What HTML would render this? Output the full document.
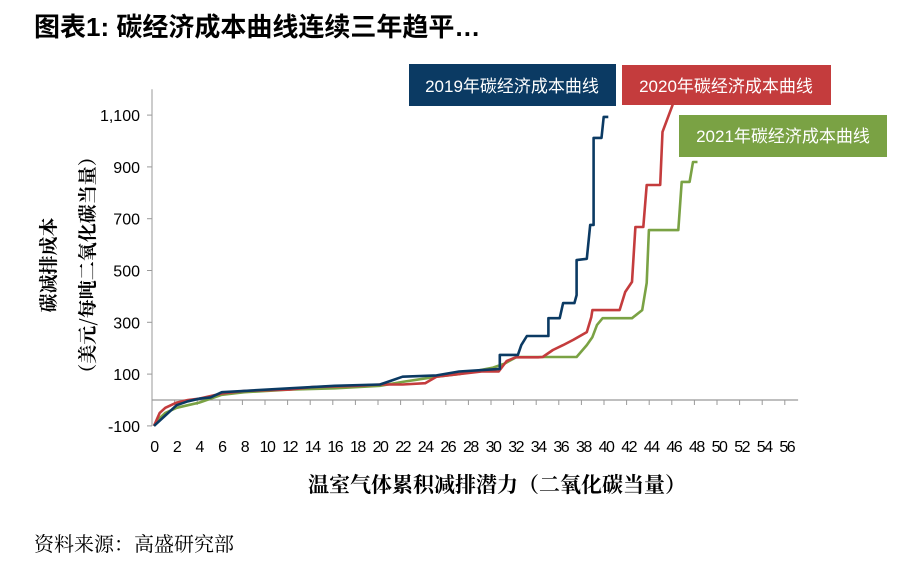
<!DOCTYPE html>
<html><head><meta charset="utf-8">
<style>
body{margin:0;background:#fff;width:908px;height:571px;overflow:hidden;font-family:"Liberation Sans","Noto Sans CJK SC",sans-serif}
</style></head><body>
<svg id="chart" width="908" height="571" xmlns="http://www.w3.org/2000/svg">
<text x="34" y="36" font-size="26" font-weight="bold" font-family="Liberation Sans, Noto Sans CJK SC, sans-serif" fill="#000">图表1: 碳经济成本曲线连续三年趋平…</text>
<g id="axes"></g>
<g id="series"></g>
<text transform="translate(55,265) rotate(-90)" text-anchor="middle" font-size="19" font-weight="bold" font-family="Noto Serif CJK SC, serif">碳减排成本</text>
<text transform="translate(94,265) rotate(-90)" text-anchor="middle" font-size="19" font-weight="bold" font-family="Noto Serif CJK SC, serif">（美元/每吨二氧化碳当量）</text>
<text x="497" y="492" text-anchor="middle" font-size="21" font-weight="bold" font-family="Noto Serif CJK SC, serif">温室气体累积减排潜力（二氧化碳当量）</text>
<text x="34" y="551" font-size="20" font-family="Noto Serif CJK SC, serif">资料来源：高盛研究部</text>
<g><rect x="409" y="64" width="207" height="42" fill="#0b3a63"/><text x="512" y="92" text-anchor="middle" fill="#fff" font-size="17">2019年碳经济成本曲线</text></g>
<g><rect x="622" y="65" width="209" height="40" fill="#c43c3d"/><text x="726" y="92" text-anchor="middle" fill="#fff" font-size="17">2020年碳经济成本曲线</text></g>
<g><rect x="679" y="115" width="208" height="42" fill="#7aa244"/><text x="783" y="142" text-anchor="middle" fill="#fff" font-size="17">2021年碳经济成本曲线</text></g>
</svg>
<script>
const yTicks=[-100,100,300,500,700,900,1100];
const yTickLabels=["-100","100","300","500","700","900","1,100"];
const xTicks=[0,2,4,6,8,10,12,14,16,18,20,22,24,26,28,30,32,34,36,38,40,42,44,46,48,50,52,54,56];
const s2019x=[0,0.5,1,1.5,2,3,4,5,6,8,12,16,20,21,22,25,27,30.6,30.6,32.2,32.5,33,34.9,34.9,35.9,36.2,37.2,37.4,37.4,38.3,38.6,38.9,38.9,39.6,39.8,40.2];
const s2019y=[-100,-80,-60,-40,-20,-5,5,10,30,35,45,55,60,75,90,95,110,120,174,174,212,247,247,316,316,374,374,405,540,545,676,676,1012,1012,1093,1093];
const s2020x=[0,0.5,1,2,3,4,6,8,12,14,18,20,22,24,25,27,29,30.5,31.2,32,34,34.4,35.3,36.2,37.1,38.3,38.7,38.8,41.2,41.7,42.3,42.6,43.3,43.6,44.8,45,45.9];
const s2020y=[-100,-50,-30,-10,0,5,25,35,40,50,55,60,60,65,90,100,110,110,150,165,165,166,193,212,232,262,320,347,347,417,456,668,668,830,830,1035,1140];
const s2021x=[0,0.5,1,2,3,4,6,8,12,16,20,22,25,27,30,31,32.1,37.4,38.3,38.8,39.2,39.7,42.3,43.2,43.6,43.8,44.2,46.4,46.4,46.7,47.4,47.7,48.1];
const s2021y=[-100,-70,-50,-30,-20,-10,20,30,40,45,55,70,90,100,125,140,166,166,212,243,290,316,316,347,452,656,656,656,656,842,842,919,919];
const NS="http://www.w3.org/2000/svg";
const X0=154,XS=11.3,Y0=400,YS=0.259;
const xs=v=>X0+v*XS, ys=v=>Y0-v*YS;
const axes=document.getElementById('axes'), ser=document.getElementById('series');
function mk(t,a,p){const e=document.createElementNS(NS,t);for(const k in a)e.setAttribute(k,a[k]);p.appendChild(e);return e;}
let l=mk('line',{x1:152,y1:ys(1200),x2:152,y2:ys(-100),stroke:'#999','stroke-width':1},axes);


l=mk('line',{x1:152,y1:Y0,x2:xs(57),y2:Y0,stroke:'#999','stroke-width':1.2},axes);


yTicks.forEach((v,i)=>{
  mk('line',{x1:147,y1:ys(v),x2:152,y2:ys(v),stroke:'#999'},axes);
  const t=mk('text',{x:140,y:ys(v)+6,'text-anchor':'end','font-size':16,fill:'#000'},axes);
  t.textContent=yTickLabels[i];
  
  
});
xTicks.forEach(v=>{
  mk('line',{x1:xs(v)-2,y1:Y0,x2:xs(v)-2,y2:Y0+5,stroke:'#999'},axes);
  const t=mk('text',{x:xs(v),y:452,'text-anchor':'middle','font-size':16,'letter-spacing':'-1.5',fill:'#000'},axes);
  t.textContent=v;
  
  
});
function draw(xa,ya,col,name){
  const d=xa.map((x,i)=>(i?'L':'M')+xs(x).toFixed(1)+','+ys(ya[i]).toFixed(1)).join('');
  const p=mk('path',{d:d,fill:'none',stroke:col,'stroke-width':2.6,'stroke-linejoin':'round'},ser);
  
  
}
draw(s2021x,s2021y,'#7aa244','series-2021');
draw(s2020x,s2020y,'#c43c3d','series-2020');
draw(s2019x,s2019y,'#0b3a63','series-2019');
</script>
</body></html>
